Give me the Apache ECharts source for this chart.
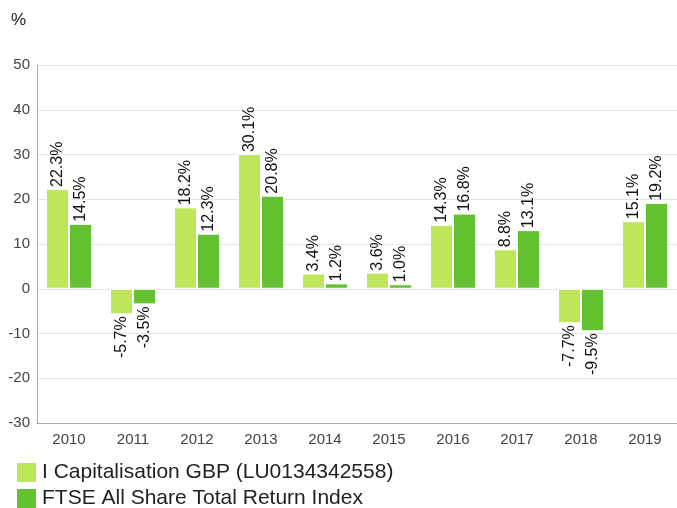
<!DOCTYPE html>
<html><head><meta charset="utf-8">
<script src="https://cdn.jsdelivr.net/npm/echarts@6/dist/echarts.min.js"></script>
<style>html,body{margin:0;padding:0;background:#fff}#c{width:677px;height:508px}</style>
</head><body><div id="c"></div>
<script>
var categories = ['2010','2011','2012','2013','2014','2015','2016','2017','2018','2019'];
var fundValues = [22.3,-5.7,18.2,30.1,3.4,3.6,14.3,8.8,-7.7,15.1];
var indexValues = [14.5,-3.5,12.3,20.8,1.2,1.0,16.8,13.1,-9.5,19.2];
var seriesNames = ['I Capitalisation GBP (LU0134342558)','FTSE All Share Total Return Index'];
var yTicks = {min:-30,max:50,interval:10};

function mk(vals){
  return vals.map(function(v){
    return {value:v,label:v>=0?{position:'top',align:'left'}:{position:'bottom',align:'right'}};
  });
}
var F = 'Liberation Sans, Arial, sans-serif';
var lab = {show:true,rotate:90,verticalAlign:'middle',distance:2,fontSize:16,color:'#111',fontFamily:F,
  formatter:function(p){return p.value.toFixed(1)+'%';}};
function leg(i,top){
  return {orient:'vertical',left:15,top:top,itemWidth:21,itemHeight:21,icon:'rect',padding:0,
    textStyle:{fontSize:21,color:'#222',fontFamily:F},data:[seriesNames[i]]};
}
var chart = echarts.init(document.getElementById('c'));
chart.setOption({
  animation:false,
  textStyle:{fontFamily:F},
  graphic:[{type:'text',left:11,top:12,style:{text:'%',font:'17px '+F,fill:'#222'}}],
  grid:{left:37,right:0,top:65,bottom:85},
  legend:[leg(0,461),leg(1,487)],
  xAxis:{type:'category',data:categories,
    axisLine:{onZero:false,lineStyle:{color:'#aaa'}},axisTick:{show:false},
    axisLabel:{color:'#444',fontSize:15,margin:9,fontFamily:F}},
  yAxis:{type:'value',min:yTicks.min,max:yTicks.max,interval:yTicks.interval,
    axisLine:{show:true,lineStyle:{color:'#aaa'}},
    splitLine:{lineStyle:{color:'#e6e6e6'}},
    axisLabel:{color:'#444',fontSize:15,margin:7,fontFamily:F}},
  series:[
    {name:seriesNames[0],type:'bar',data:mk(fundValues),barGap:'0%',barCategoryGap:'28%',
      itemStyle:{color:'#bde65a',borderColor:'#fff',borderWidth:1},label:lab},
    {name:seriesNames[1],type:'bar',data:mk(indexValues),
      itemStyle:{color:'#63c132',borderColor:'#fff',borderWidth:1},label:lab}
  ]
});
</script></body></html>
